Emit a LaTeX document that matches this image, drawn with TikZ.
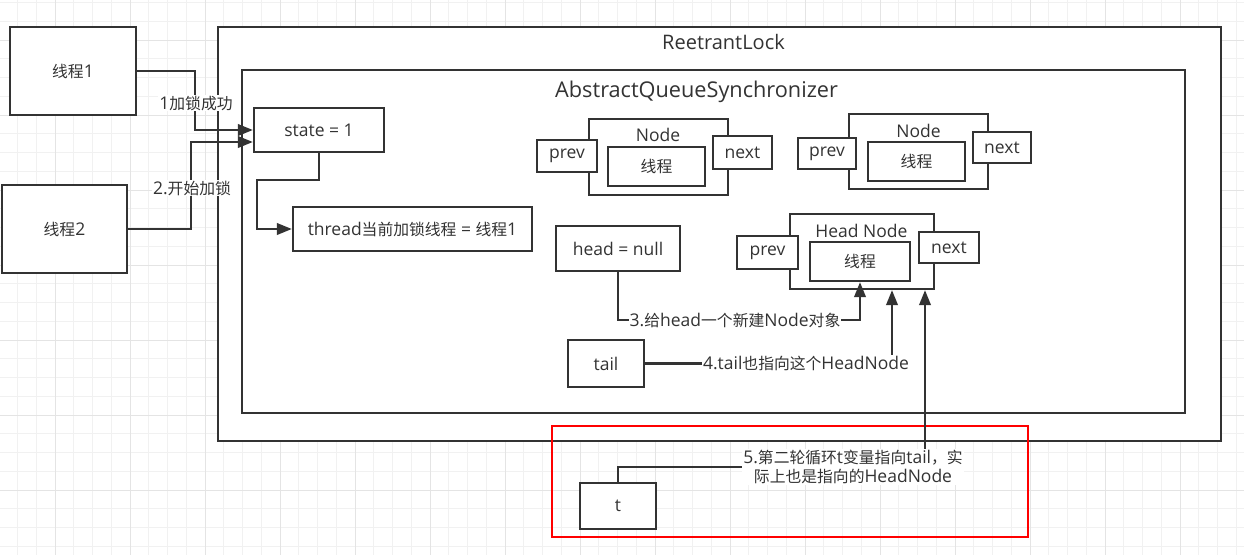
\documentclass[tikz,border=0pt]{standalone}
\usepackage{fontspec}
\setmainfont{Open Sans}
\newfontfamily\cjkf{Noto Sans CJK SC}
\usetikzlibrary{arrows.meta,calc}
\definecolor{dk}{HTML}{333333}
\definecolor{gminor}{HTML}{F1F1F1}
\definecolor{gmajor}{HTML}{E4E4E4}
\newcommand{\fs}{\fontsize{17.5}{20}\selectfont}
\newcommand{\fst}{\fontsize{20}{24}\selectfont}
\newcommand{\fsa}{\fontsize{21.7}{26}\selectfont}
\newcommand{\zh}[1]{{\cjkf\fontsize{15.8}{20}\selectfont #1}}
\tikzset{
  box/.style={draw=dk, line width=2.3pt, fill=white, inner sep=0pt, text=dk, font=\fs},
  lbl/.style={fill=white, inner sep=1pt, text=dk, font=\fs},
  ttl/.style={inner sep=0pt, text=dk, font=\fst},
  conn/.style={draw=dk, line width=2.3pt, -{Triangle[length=15pt,width=11.5pt]}},
}
\begin{document}
\begin{tikzpicture}[x=1pt,y=-1pt]
\useasboundingbox (0,0) rectangle (1244,555);
\fill[white] (0,0) rectangle (1244,555);
% grid
\foreach \i in {0,...,65} \draw[gminor, line width=1pt] ({17.5+18.75*\i},0) -- ++(0,555);
\foreach \j in {0,...,29} \draw[gminor, line width=1pt] (0,{2.5+18.75*\j}) -- ++(1244,0);
\foreach \i in {0,...,15} \draw[gmajor, line width=1pt] ({55+75*\i},0) -- ++(0,555);
\foreach \j in {0,...,6} \draw[gmajor, line width=1pt] (0,{40+75*\j}) -- ++(1244,0);

% containers
\node[box, minimum width=1003pt, minimum height=414pt] (rl) at (719.5,234) {};
\node[ttl, anchor=base west] (rlt) at (662,49) {ReetrantLock};
\node[box, minimum width=943pt, minimum height=343pt] (aqs) at (713.5,241.5) {};
\node[ttl, font=\fsa, anchor=base west] (aqst) at (555,97) {AbstractQueueSynchronizer};

% threads
\node[box, minimum width=126pt, minimum height=88pt] (t1) at (73,71) {\zh{线程}1};
\node[box, minimum width=125pt, minimum height=88pt] (t2) at (64.5,229) {\zh{线程}2};

% state & thread
\node[box, minimum width=130pt, minimum height=44pt] (state) at (319,130) {state = 1};
\node[box, minimum width=239pt, minimum height=44pt] (thread) at (412.5,229) {thread\zh{当前加锁线程} = \zh{线程}1};
\node[box, minimum width=124pt, minimum height=45pt] (headnull) at (618,248.5) {head = null};

% Node 1
\node[box, minimum width=139pt, minimum height=76pt] (n1) at (658.5,157) {};
\node[ttl, font=\fs] (n1t) at (658,135) {Node};
\node[box, minimum width=97pt, minimum height=39pt] (n1i) at (656.5,166.5) {\zh{线程}};
\node[box, minimum width=60pt, minimum height=32pt] (n1p) at (567,156) {prev};
\node[box, minimum width=59pt, minimum height=33pt] (n1n) at (742.5,152.5) {next};

% Node 2
\node[box, minimum width=139pt, minimum height=75pt] (n2) at (918.5,151.5) {};
\node[ttl, font=\fs] (n2t) at (918.5,131) {Node};
\node[box, minimum width=97pt, minimum height=39pt] (n2i) at (916.5,161.5) {\zh{线程}};
\node[box, minimum width=58pt, minimum height=31pt] (n2p) at (827,153.5) {prev};
\node[box, minimum width=58pt, minimum height=31pt] (n2n) at (1002,147.5) {next};

% Head Node
\node[box, minimum width=144pt, minimum height=75pt] (hn) at (862,251.5) {};
\node[ttl, font=\fs] (hnt) at (861.5,231) {Head Node};
\node[box, minimum width=100pt, minimum height=39pt] (hni) at (860,261.5) {\zh{线程}};
\node[box, minimum width=61pt, minimum height=33pt] (hnp) at (767.5,252.5) {prev};
\node[box, minimum width=60pt, minimum height=31pt] (hnn) at (949,247.5) {next};

% tail, t
\node[box, minimum width=76pt, minimum height=47pt] (tail) at (606,363.5) {tail};
\node[box, minimum width=76pt, minimum height=46pt] (t) at (618,506) {t};

% red frame
\draw[red, line width=2pt] (552,426) rectangle (1028,537);

% connectors
\draw[conn] (t1.east) -- (195,71) |- (state.west);
\node[lbl] (l1) at (196,103) {1\zh{加锁成功}};
\draw[conn] (t2.east) -- (191,229) |- ([yshift=-12pt]state.west);
\node[lbl] (l2) at (192,188) {2.\zh{开始加锁}};
\draw[conn] (state.south) -- (319,180) -| (257,229) -- (thread.west);
\draw[conn] (headnull.south) -- (618,320) -| (hni.south);
\node[lbl] (l3) at (735,320) {3.\zh{给}head\zh{一个新建}Node\zh{对象}};
\draw[conn] (tail.east) -| ([xshift=30pt]hn.south);
\node[lbl] (l4) at (806,363) {4.tail\zh{也指向这个}HeadNode};
\draw[conn] (t.north) -- (618,467) -| ([xshift=63pt]hn.south);
\node[lbl, align=center, inner sep=1pt] (l5) at (853,467) {5.\zh{第二轮循环}t\zh{变量指向}tail\zh{，实}\\[-1pt]\zh{际上也是指向的}HeadNode};
\end{tikzpicture}
\end{document}
